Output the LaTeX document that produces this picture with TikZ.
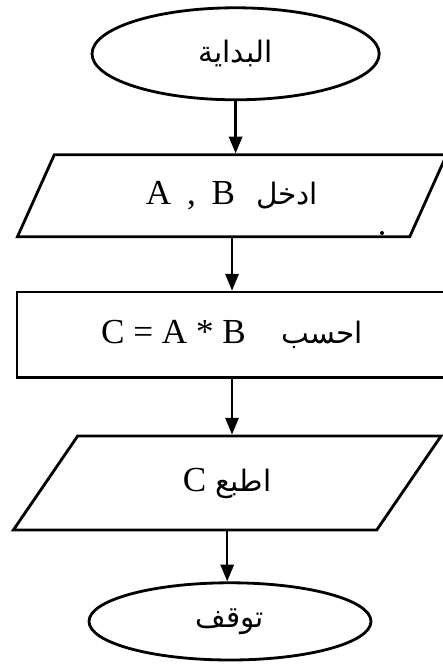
\documentclass[tikz,border=0pt]{standalone}
\usepackage{fontspec}
\setmainfont{Liberation Serif}
\newfontfamily\arabicfont[Script=Arabic]{DejaVu Sans}
\TeXXeTstate=1
\usetikzlibrary{shapes.geometric,arrows.meta}
\newcommand{\arb}{\arabicfont\fontsize{21}{26}\selectfont}
\begin{document}
\begin{tikzpicture}[
    every node/.style={font=\fontsize{25}{30}\selectfont, inner sep=0pt},
    term/.style={draw, line width=2pt, ellipse},
    io/.style={draw, line width=2pt, trapezium, trapezium stretches=true,
        trapezium left angle=58, trapezium right angle=122},
    proc/.style={draw, line width=2pt, rectangle},
    arr/.style={-{Triangle[width=3.3mm, length=4.2mm]}, line width=1.8pt}
]
\useasboundingbox (0, 0) rectangle (11.05, 16.775);
% Start
\node[term, minimum width=7.18cm, minimum height=2.3cm] (start) at (5.89, 15.43)
    {\arb\beginR البداية\endR};
% Input
\node[io, minimum width=10.75cm, minimum height=2.05cm] (in) at (5.8, 11.88)
    {\beginR{\arb ادخل}\hspace{0.6em}\beginL A\hspace{0.45em},\hspace{0.45em}B\endL\endR};
% Process
\node[proc, minimum width=10.75cm, minimum height=2.125cm] (calc) at (5.8, 8.41)
    {\beginR{\arb احسب}\quad\beginL C = A * B\endL\endR};
% Output
\node[io, minimum width=10.7cm, minimum height=2.35cm] (out) at (5.68, 4.7)
    {\beginR{\arb اطبع}\ \beginL C\endL\endR};
% Stop
\node[term, minimum width=7.05cm, minimum height=1.93cm] (stop) at (5.75, 1.24)
    {\arb\beginR توقف\endR};
% stray dot
\fill (9.55, 10.95) circle (0.05);

% Arrows
\draw[arr] (start.south) -- (start.south |- in.north);
\draw[arr] (in.south) -- (in.south |- calc.north);
\draw[arr] (calc.south) -- (calc.south |- out.north);
\draw[arr] (out.south) -- (out.south |- stop.north);
\end{tikzpicture}
\end{document}
